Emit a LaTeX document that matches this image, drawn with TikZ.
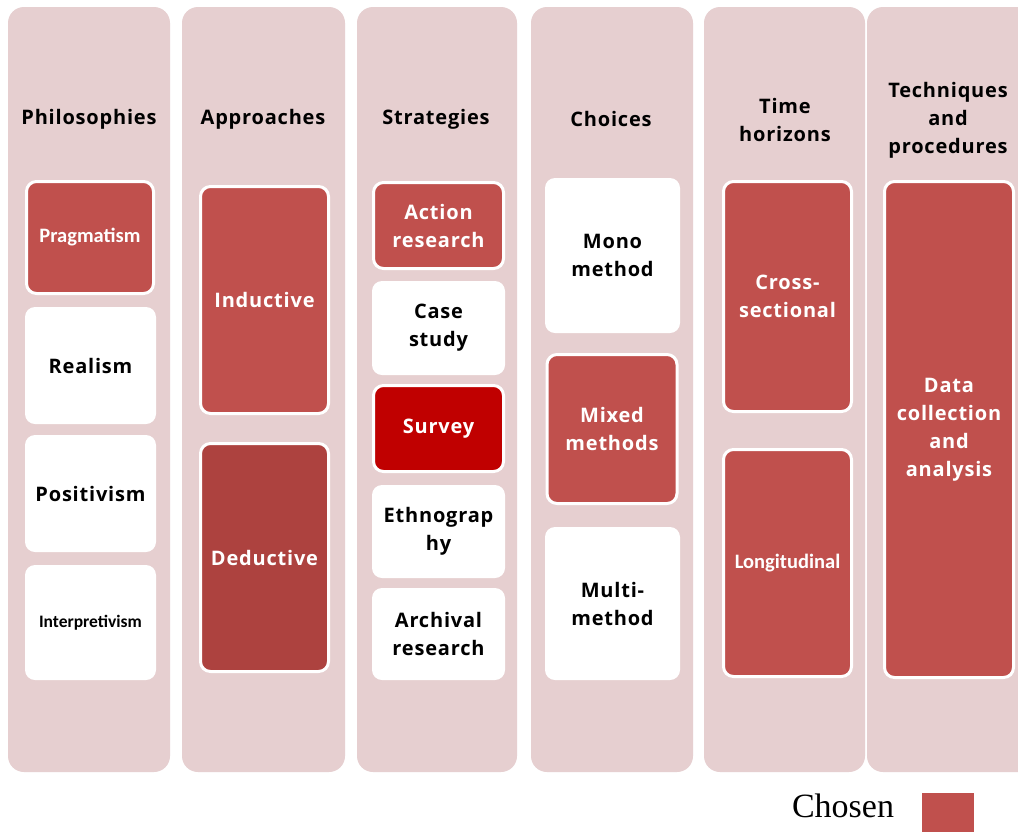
\documentclass[tikz,border=0pt]{standalone}
\usepackage{fontspec}
\setmainfont[LetterSpace=4]{Open Sans}
\newfontfamily\smallsans{Carlito}
\newfontfamily\legendserif{Liberation Serif}
\definecolor{colbg}{HTML}{E6CFD0}
\definecolor{chosen}{HTML}{C0504D}
\definecolor{deduct}{HTML}{AD423F}
\definecolor{survey}{HTML}{C00000}
\tikzset{
  column/.style={fill=colbg, rounded corners=16pt},
  head/.style={align=center, inner sep=0pt, text=black,
    font=\bfseries\fontsize{20}{28}\selectfont},
  opt/.style={rectangle, rounded corners=10pt, fill=white, inner sep=0pt,
    align=center, text=black, font=\bfseries\fontsize{20}{28}\selectfont},
  pick/.style={opt, fill=chosen, draw=white, line width=3pt, text=white},
  tiny/.style={font=\smallsans\bfseries\fontsize{20.5}{22}\selectfont},
}
\begin{document}
\begin{tikzpicture}[x=1pt,y=-1pt]
\useasboundingbox (0,0) rectangle (1018,831);
\fill[white] (0,0) rectangle (1018,831);

% background columns
\path[column] (8,7) rectangle (170,772);
\path[column] (182,7) rectangle (345,772);
\path[column] (357,7) rectangle (517,772);
\path[column] (531,7) rectangle (693,772);
\path[column] (704,7) rectangle (865,772);
\path[column] (867,7) rectangle (1034,772);

% column headings
\node[head] (hphil) at (89,119) {Philosophies};
\node[head] (happ)  at (263,119) {Approaches};
\node[head] (hstr)  at (436,119) {Strategies};
\node[head] (hcho)  at (611,119) {Choices};
\node[head] (htim)  at (785,120) {Time\\horizons};
\node[head] (htec)  at (948,120) {Techniques\\and\\procedures};

% philosophies
\node[pick, tiny, minimum width=127pt, minimum height=112pt] (prag) at (90,237.5) {Pragmatism};
\node[opt, minimum width=131pt, minimum height=117pt] (real) at (90.5,365.5) {Realism};
\node[opt, minimum width=131pt, minimum height=117pt] (posi) at (90.5,493.5) {Positivism};
\node[opt, minimum width=131pt, minimum height=115pt,
  font=\smallsans\bfseries\fontsize{17.5}{20}\selectfont] (interp) at (90.5,622.5) {Interpretivism};

% approaches
\node[pick, minimum width=128pt, minimum height=227pt] (ind) at (264.5,300) {Inductive};
\node[pick, fill=deduct, minimum width=128pt, minimum height=228pt] (ded) at (264.5,557.5) {Deductive};

% strategies
\node[pick, minimum width=130pt, minimum height=86pt] (act) at (438.5,225.5) {Action\\research};
\node[opt, minimum width=133pt, minimum height=94pt] (case) at (438.5,328) {Case\\study};
\node[pick, fill=survey, minimum width=130pt, minimum height=86pt] (surv) at (438.5,428.5) {Survey};
\node[opt, minimum width=133pt, minimum height=93pt] (eth) at (438.5,531.5) {Ethnograp\\hy};
\node[opt, minimum width=133pt, minimum height=92pt] (arch) at (438.5,634) {Archival\\research};

% choices
\node[opt, minimum width=135pt, minimum height=155pt] (mono) at (612.5,255.5) {Mono\\method};
\node[pick, minimum width=130pt, minimum height=149pt] (mixed) at (612,429) {Mixed\\methods};
\node[opt, minimum width=135pt, minimum height=153pt] (multi) at (612.5,603.5) {Multi-\\method};

% time horizons
\node[pick, minimum width=128pt, minimum height=230pt] (cross) at (787.5,296.5) {Cross-\\sectional};
\node[pick, tiny, minimum width=128pt, minimum height=227pt] (long) at (787.5,563) {Longitudinal};

% techniques and procedures
\node[pick, minimum width=129pt, minimum height=496pt] (data) at (949,429.5) {Data\\collection\\and\\analysis};

% legend
\node[inner sep=0pt, font=\legendserif\fontsize{34}{34}\selectfont, anchor=base] (lbl) at (843,817) {Chosen};
\node[fill=chosen, inner sep=0pt, minimum width=52pt, minimum height=40pt] (key) at (948,813) {};
\end{tikzpicture}
\end{document}
